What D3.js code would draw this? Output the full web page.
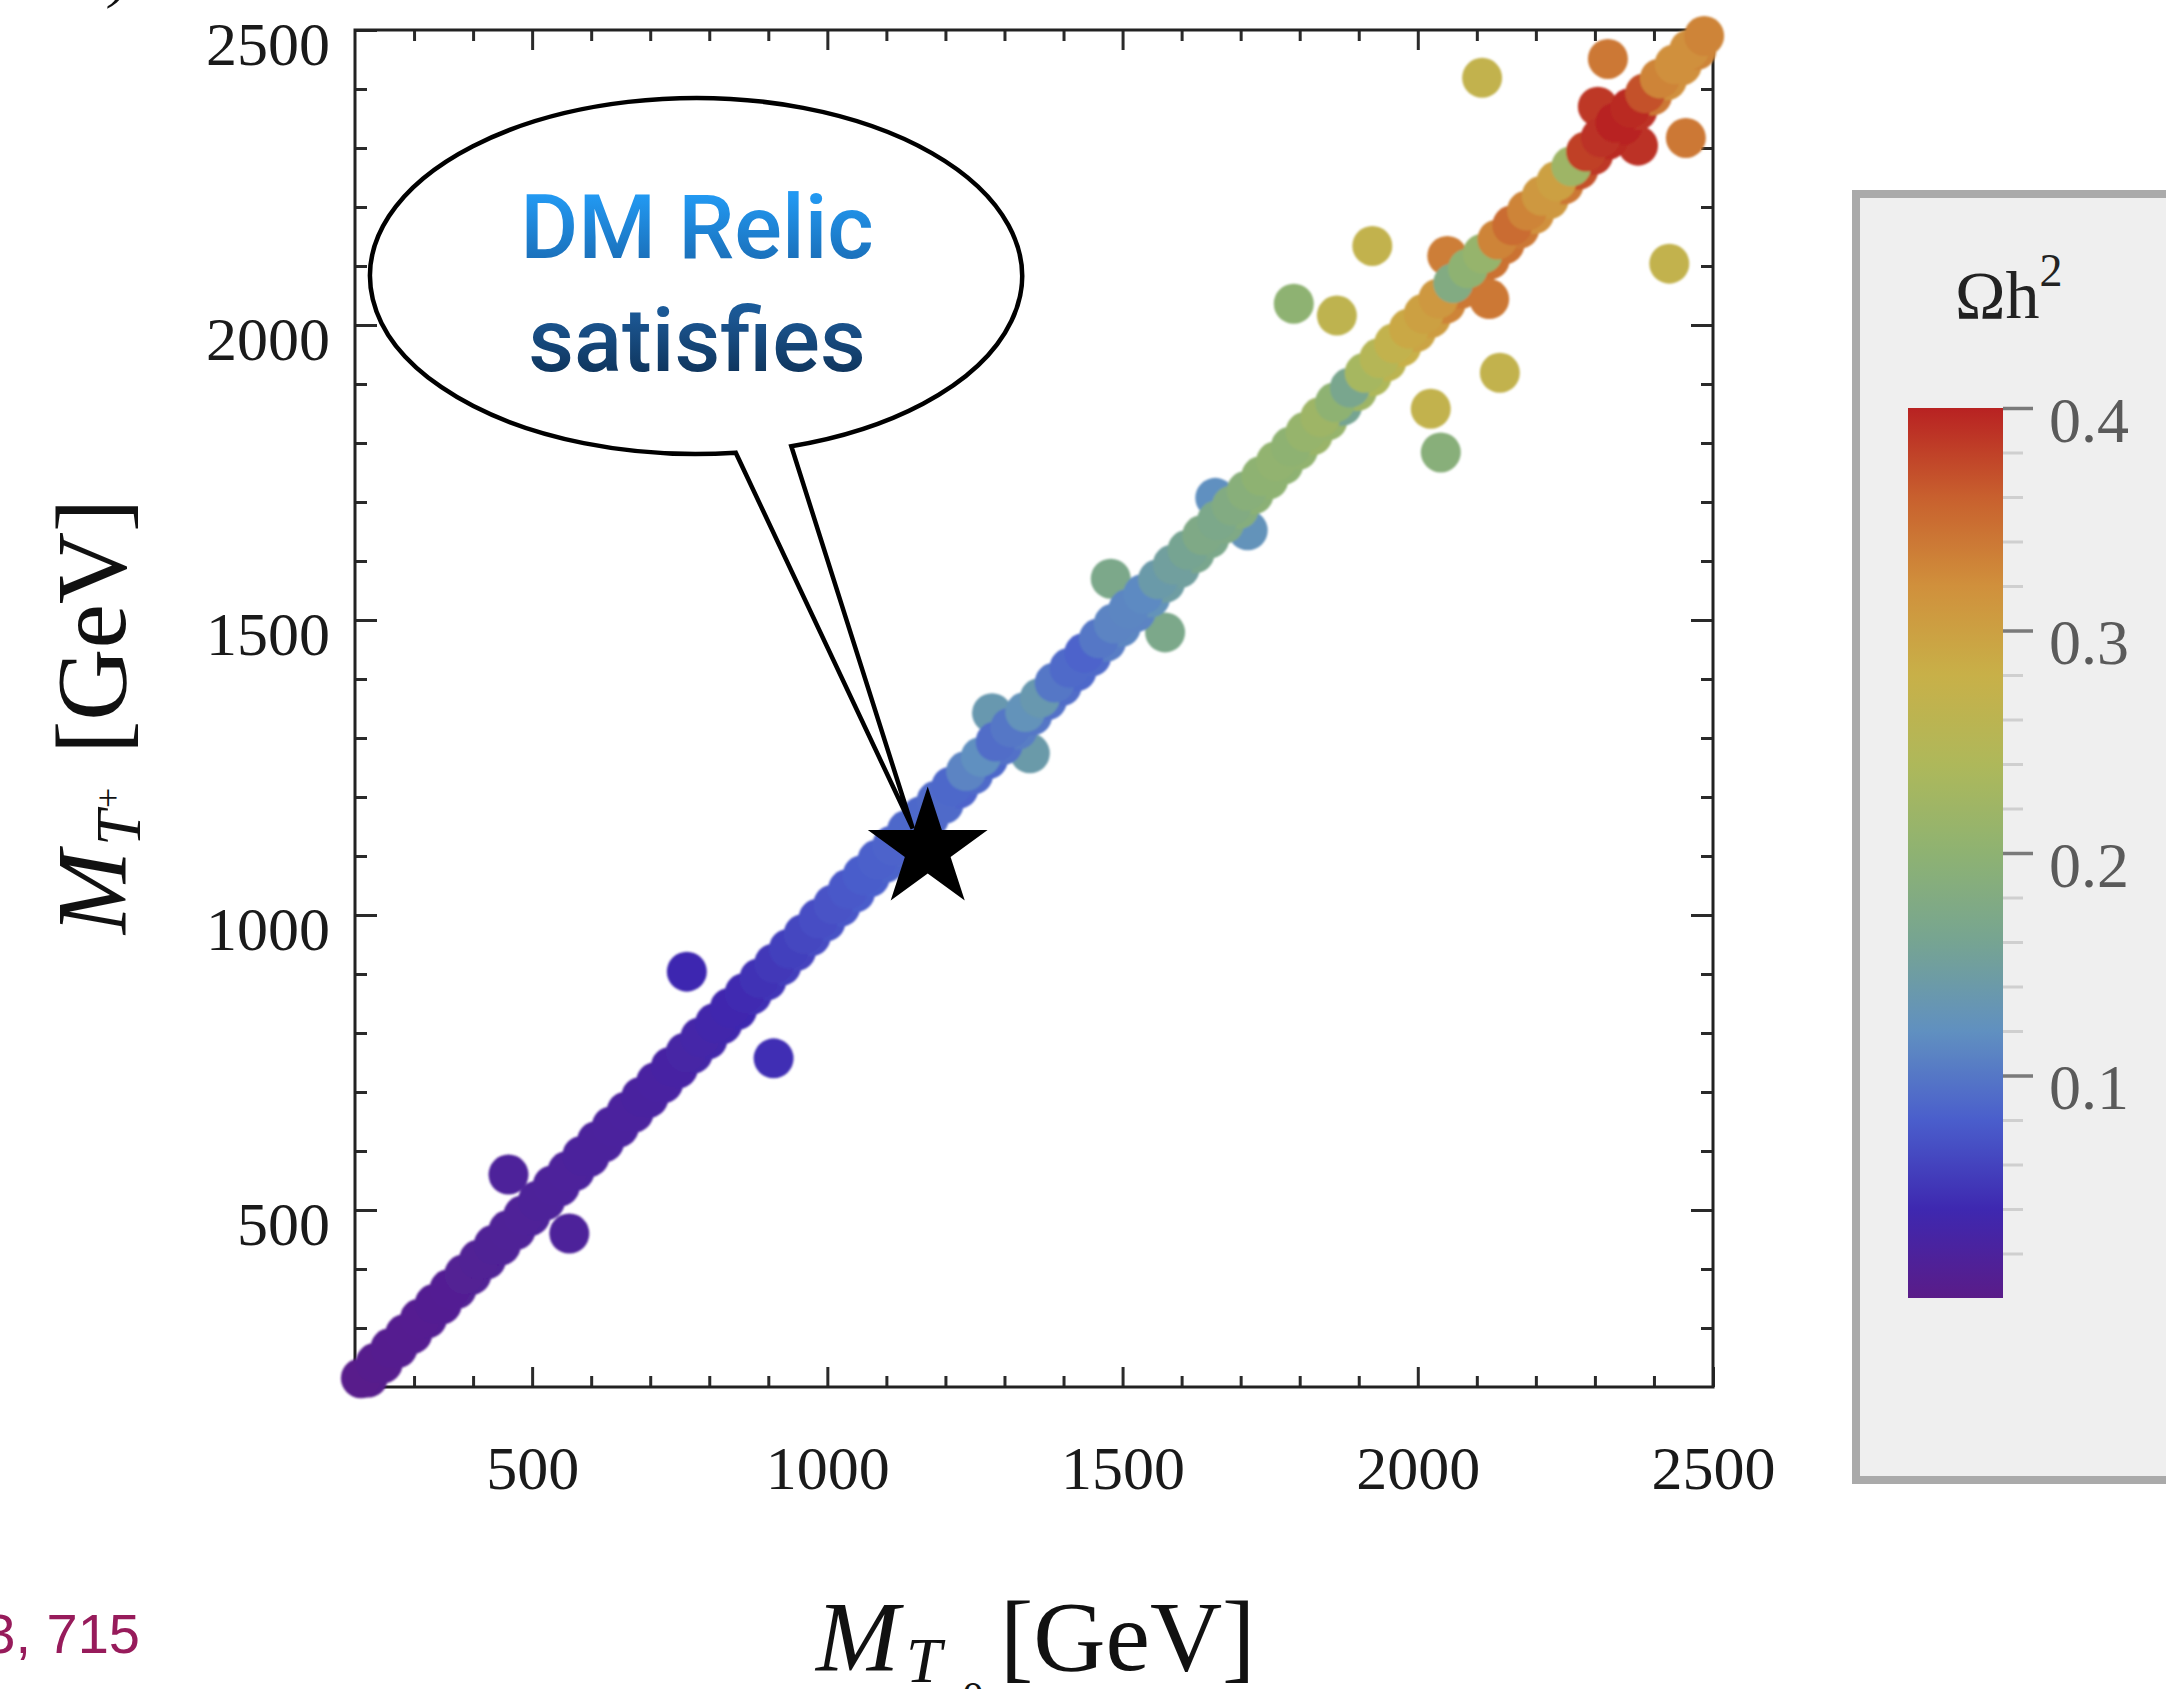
<!DOCTYPE html>
<html>
<head>
<meta charset="utf-8">
<style>
  body { margin: 0; background: #fff; }
  svg { display: block; }
  text { font-family: "Liberation Serif", "Times New Roman", serif; }
</style>
</head>
<body>
<svg width="2166" height="1689"></svg>
<script src="https://d3js.org/d3.v7.min.js"></script>
<script>

// band of scan points along the diagonal, upper-left row (M_T0, M_T+, Omega h^2)
var bandAT0 = [210, 235, 260, 285, 310, 335, 360, 385, 410, 435,
               460, 485, 510, 535, 560, 585, 610, 635, 660, 685,
               710, 735, 760, 785, 810, 835, 860, 885, 910, 935,
               960, 985, 1010, 1035, 1060, 1085, 1110, 1135, 1160, 1185,
               1210, 1235, 1260, 1285, 1310, 1335, 1360, 1385, 1410, 1435,
               1460, 1485, 1510, 1535, 1560, 1585, 1610, 1635, 1660, 1685,
               1710, 1735, 1760, 1785, 1810, 1835, 1860, 1885, 1910, 1935,
               1960, 1985, 2010, 2035, 2060, 2085, 2110, 2135, 2160, 2185,
               2210, 2235, 2260, 2285, 2310, 2335, 2360, 2385, 2410, 2435,
               2460, 2485];
var bandATplus = [215, 241, 266, 290, 316, 341, 366, 391, 416, 441,
                  466, 491, 516, 542, 566, 592, 617, 642, 667, 692,
                  717, 743, 767, 793, 817, 843, 868, 893, 918, 943,
                  968, 994, 1018, 1044, 1068, 1094, 1118, 1144, 1168, 1194,
                  1218, 1244, 1268, 1294, 1318, 1344, 1368, 1394, 1419, 1444,
                  1469, 1494, 1519, 1544, 1569, 1594, 1619, 1644, 1669, 1694,
                  1719, 1744, 1769, 1794, 1819, 1844, 1869, 1894, 1919, 1944,
                  1969, 1994, 2019, 2045, 2071, 2096, 2121, 2145, 2169, 2194,
                  2219, 2244, 2269, 2294, 2318, 2343, 2368, 2393, 2418, 2442,
                  2467, 2490];
var bandAOmega = [.003, .005, .007, .008, .009, .010, .011, .012, .013, .014,
                  .015, .016, .017, .018, .019, .020, .020, .021, .022, .023,
                  .025, .027, .029, .032, .035, .038, .042, .047, .052, .058,
                  .063, .068, .072, .076, .079, .082, .085, .087, .088, .090,
                  .088, .110, .120, .092, .100, .125, .135, .100, .090, .085,
                  .100, .110, .112, .115, .140, .150, .160, .175, .170, .180,
                  .190, .200, .205, .200, .210, .220, .200, .165, .230, .250,
                  .270, .290, .300, .310, .180, .200, .210, .330, .350, .330,
                  .310, .300, .220, .380, .390, .400, .395, .370, .330, .320,
                  .320, .330];

// band, lower-right row
var bandBT0 = [222, 247, 272, 297, 322, 347, 372, 397, 422, 447,
               472, 497, 522, 547, 572, 597, 622, 647, 672, 697,
               722, 747, 772, 797, 822, 847, 872, 897, 922, 947,
               972, 997, 1022, 1047, 1072, 1097, 1122, 1147, 1172, 1197,
               1222, 1247, 1272, 1297, 1322, 1347, 1372, 1397, 1422, 1447,
               1472, 1497, 1522, 1547, 1572, 1597, 1622, 1647, 1672, 1697,
               1722, 1747, 1772, 1797, 1822, 1847, 1872, 1897, 1922, 1947,
               1972, 1997, 2022, 2047, 2072, 2097, 2122, 2147, 2172, 2197,
               2222, 2247, 2272, 2297, 2322, 2347, 2372, 2397, 2422, 2447,
               2472];
var bandBTplus = [216, 240, 266, 290, 316, 340, 366, 390, 416, 440,
                  466, 490, 516, 540, 566, 590, 615, 640, 665, 690,
                  715, 740, 765, 789, 815, 839, 865, 889, 914, 939,
                  964, 989, 1014, 1038, 1064, 1088, 1114, 1138, 1164, 1188,
                  1214, 1238, 1264, 1288, 1314, 1338, 1364, 1388, 1413, 1438,
                  1463, 1488, 1513, 1538, 1563, 1588, 1613, 1638, 1663, 1688,
                  1713, 1738, 1763, 1788, 1813, 1838, 1863, 1888, 1913, 1938,
                  1963, 1988, 2012, 2036, 2061, 2086, 2111, 2137, 2163, 2188,
                  2213, 2238, 2263, 2288, 2314, 2339, 2364, 2389, 2415, 2440,
                  2466];
var bandBOmega = [.004, .006, .008, .009, .010, .011, .012, .013, .014, .015,
                  .016, .017, .018, .019, .020, .020, .021, .022, .022, .024,
                  .026, .028, .030, .034, .036, .040, .045, .050, .055, .060,
                  .066, .070, .074, .078, .080, .084, .086, .086, .089, .090,
                  .085, .090, .088, .095, .105, .100, .095, .092, .088, .090,
                  .105, .112, .110, .125, .145, .150, .165, .170, .175, .185,
                  .195, .200, .200, .205, .215, .210, .160, .220, .240, .260,
                  .280, .295, .305, .330, .340, .340, .345, .345, .340, .320,
                  .310, .340, .370, .385, .395, .400, .390, .340, .320, .320,
                  .330];

// scattered points off the band
var outT0 = [460, 563, 762, 909, 1279, 1343, 1480, 1572, 1657, 1712, 1790, 1863, 1923,
             2050, 2121, 2139, 2022, 2039, 2109, 2322, 2454, 2426, 2305, 2371, 2321, 2373];
var outTplus = [560, 460, 904, 757, 1342, 1274, 1570, 1479, 1707, 1652, 2036, 2016, 2134,
                2117, 2044, 1919, 1858, 1784, 2419, 2451, 2317, 2104, 2370, 2363, 2315, 2304];
var outOmega = [.018, .018, .040, .045, .135, .140, .170, .170, .120, .125, .200, .265, .270,
                .335, .340, .270, .270, .190, .270, .340, .340, .270, .385, .400, .400, .390];

// benchmark point (star)
var starT0 = 1170, starTplus = 1111;

var xTicks = [500, 1000, 1500, 2000, 2500];
var yTicks = [500, 1000, 1500, 2000, 2500];
var cbTicks = [0.1, 0.2, 0.3, 0.4];

// colour function of the bar legend
var omegaStops = [0, 0.04, 0.08, 0.12, 0.16, 0.20, 0.24, 0.28, 0.32, 0.36, 0.40];
var omegaColors = ["#5a1c88", "#3e28b0", "#4a5ecc", "#6090c0", "#76a492", "#8eb272",
                   "#aeb85a", "#c8b048", "#d0903c", "#c8602e", "#b82222"];

var svg = d3.select("svg");

var x = d3.scaleLinear().domain([200, 2500]).range([355, 1713]),
    y = d3.scaleLinear().domain([200, 2500]).range([1387, 30]);

var color = d3.scaleLinear()
    .domain(omegaStops)
    .range(omegaColors)
    .interpolate(d3.interpolateRgb);

var minor = d3.range(300, 2500, 100).filter(function(v) { return v % 500 != 0; });

// frame + ticks on all four sides, pointing inward
function styleAxis(g) {
  g.select(".domain").remove();
  g.selectAll(".tick line").attr("stroke", "#2a2a2a").attr("stroke-width", 3);
  g.selectAll(".tick text").attr("fill", "#1a1a1a")
    .style("font-family", "'Liberation Serif', serif").style("font-size", "62px");
}

svg.append("g").attr("transform", "translate(0,1387)")
    .call(d3.axisBottom(x).tickValues(xTicks).tickSizeInner(-20).tickSizeOuter(0).tickPadding(58).tickFormat(d3.format("d")))
    .call(styleAxis);
svg.append("g").attr("transform", "translate(0,1387)")
    .call(d3.axisBottom(x).tickValues(minor).tickSizeInner(-11).tickSizeOuter(0).tickFormat(""))
    .call(styleAxis);
svg.append("g").attr("transform", "translate(0,30)")
    .call(d3.axisTop(x).tickValues(xTicks).tickSizeInner(-20).tickSizeOuter(0).tickFormat(""))
    .call(styleAxis);
svg.append("g").attr("transform", "translate(0,30)")
    .call(d3.axisTop(x).tickValues(minor).tickSizeInner(-11).tickSizeOuter(0).tickFormat(""))
    .call(styleAxis);

var yl = svg.append("g").attr("transform", "translate(355,0)")
    .call(d3.axisLeft(y).tickValues(yTicks).tickSizeInner(-22).tickSizeOuter(0).tickPadding(25).tickFormat(d3.format("d")))
    .call(styleAxis);
yl.selectAll(".tick text").attr("dy", "0.56em");
svg.append("g").attr("transform", "translate(355,0)")
    .call(d3.axisLeft(y).tickValues(minor).tickSizeInner(-12).tickSizeOuter(0).tickFormat(""))
    .call(styleAxis);
svg.append("g").attr("transform", "translate(1713,0)")
    .call(d3.axisRight(y).tickValues(yTicks).tickSizeInner(-22).tickSizeOuter(0).tickFormat(""))
    .call(styleAxis);
svg.append("g").attr("transform", "translate(1713,0)")
    .call(d3.axisRight(y).tickValues(minor).tickSizeInner(-12).tickSizeOuter(0).tickFormat(""))
    .call(styleAxis);

svg.append("rect")
    .attr("x", x(200)).attr("y", y(2500))
    .attr("width", x(2500) - x(200)).attr("height", y(200) - y(2500))
    .attr("fill", "none").attr("stroke", "#222").attr("stroke-width", 3);

// points
var defs = svg.append("defs");
defs.append("filter").attr("id", "soft")
  .append("feGaussianBlur").attr("stdDeviation", 1.1);

function rows(t0, tp, om) {
  return t0.map(function(d, i) { return {t0: d, tp: tp[i], om: om[i]}; });
}
var pts = rows(outT0, outTplus, outOmega)
    .concat(rows(bandBT0, bandBTplus, bandBOmega))
    .concat(rows(bandAT0, bandATplus, bandAOmega));

svg.append("g").attr("filter", "url(#soft)")
  .selectAll("circle")
  .data(pts)
  .enter().append("circle")
    .attr("cx", function(d) { return x(d.t0); })
    .attr("cy", function(d) { return y(d.tp); })
    .attr("r", 20)
    .attr("fill", function(d) { return color(d.om); });

// callout bubble
var tg = defs.append("linearGradient").attr("id", "txtGrad")
    .attr("gradientUnits", "userSpaceOnUse")
    .attr("x1", 0).attr("x2", 0).attr("y1", 195).attr("y2", 395);
tg.append("stop").attr("offset", "0%").attr("stop-color", "#2299f2");
tg.append("stop").attr("offset", "35%").attr("stop-color", "#1a6db6");
tg.append("stop").attr("offset", "62%").attr("stop-color", "#1b5590");
tg.append("stop").attr("offset", "100%").attr("stop-color", "#0a2848");

var ell = {cx: 696, cy: 276, rx: 326, ry: 178};
var aR = 73 * Math.PI / 180, aL = 83 * Math.PI / 180;
var pR = [ell.cx + ell.rx * Math.cos(aR), ell.cy + ell.ry * Math.sin(aR)],
    pL = [ell.cx + ell.rx * Math.cos(aL), ell.cy + ell.ry * Math.sin(aL)],
    tip = [x(starT0) - 15, y(starTplus) - 21];

svg.append("path")
    .attr("d", "M" + pR + "A" + ell.rx + "," + ell.ry + " 0 1 0 " + pL + "L" + tip + "Z")
    .attr("fill", "#fff").attr("stroke", "#000").attr("stroke-width", 4.5)
    .attr("stroke-linejoin", "miter").attr("stroke-miterlimit", 4);

svg.append("text")
    .attr("x", 697).attr("y", 258)
    .attr("text-anchor", "middle")
    .style("font-family", "Roboto, 'Open Sans', sans-serif")
    .style("font-weight", 500).style("font-size", "89px")
    .attr("fill", "url(#txtGrad)")
    .text("DM Relic");
svg.append("text")
    .attr("x", 697).attr("y", 371)
    .attr("text-anchor", "middle")
    .style("font-family", "Roboto, 'Open Sans', sans-serif")
    .style("font-weight", 500).style("font-size", "89px")
    .attr("fill", "url(#txtGrad)")
    .text("satisfies");

// star
svg.append("path")
    .attr("d", d3.symbol().type(d3.symbolStar).size(4456)())
    .attr("transform", "translate(" + x(starT0) + "," + y(starTplus) + ")")
    .attr("fill", "#000");

// axis titles
var xt = svg.append("text").attr("y", 1670).style("font-size", "100px").attr("fill", "#111");
xt.append("tspan").attr("x", 816).style("font-style", "italic").text("M");
xt.append("tspan").attr("x", 906).attr("y", 1682).style("font-style", "italic").style("font-size", "64px").text("T");
xt.append("tspan").attr("x", 962).attr("y", 1712).style("font-size", "44px").text("0");
xt.append("tspan").attr("x", 1000).attr("y", 1670).text("[GeV]");

var ytg = svg.append("g").attr("transform", "translate(125,716) rotate(-90)");
var yt = ytg.append("text").style("font-size", "100px").attr("fill", "#111");
yt.append("tspan").attr("x", -218).attr("y", 0).style("font-style", "italic").text("M");
yt.append("tspan").attr("x", -130).attr("y", 15).style("font-style", "italic").style("font-size", "64px").text("T");
yt.append("tspan").attr("x", -92).attr("y", -5).style("font-size", "36px").text("+");
yt.append("tspan").attr("x", -38).attr("y", 0).text("[GeV]");

// colour bar legend
svg.append("rect")
    .attr("x", 1856).attr("y", 194).attr("width", 400).attr("height", 1286)
    .attr("fill", "#efefef").attr("stroke", "#aaa").attr("stroke-width", 8);

var cb = d3.scaleLinear().domain([0, 0.4]).range([1298, 408]);
var cg = defs.append("linearGradient").attr("id", "cbGrad")
    .attr("x1", 0).attr("x2", 0).attr("y1", 1).attr("y2", 0);
d3.range(0, 1.0001, 0.025).forEach(function(t) {
  cg.append("stop").attr("offset", (t * 100) + "%").attr("stop-color", color(t * 0.4));
});
svg.append("rect")
    .attr("x", 1908).attr("y", cb(0.4)).attr("width", 95).attr("height", cb(0) - cb(0.4))
    .attr("fill", "url(#cbGrad)");

var cbMinor = d3.range(0.02, 0.399, 0.02).filter(function(v) {
  return Math.abs(v * 10 - Math.round(v * 10)) > 1e-6;
});
var cbm = svg.append("g").attr("transform", "translate(2003,0)")
    .call(d3.axisRight(cb).tickValues(cbMinor).tickSizeInner(20).tickSizeOuter(0).tickFormat(""));
cbm.select(".domain").remove();
cbm.selectAll(".tick line").attr("stroke", "#cfcfcf").attr("stroke-width", 3);

var cba = svg.append("g").attr("transform", "translate(2003,0)")
    .call(d3.axisRight(cb).tickValues(cbTicks).tickSizeInner(30).tickSizeOuter(0).tickPadding(16).tickFormat(d3.format(".1f")));
cba.select(".domain").remove();
cba.selectAll(".tick line").attr("stroke", "#7a7a7a").attr("stroke-width", 3.5);
cba.selectAll(".tick text").attr("fill", "#5a5a5a").attr("dy", "0.52em")
    .style("font-family", "'Liberation Serif', serif").style("font-size", "64px");

var ct = svg.append("text").attr("x", 1955).attr("y", 318).style("font-size", "68px").attr("fill", "#222");
ct.append("tspan").text("\u03A9h");
ct.append("tspan").attr("dy", -32).style("font-size", "46px").text("2");

// leftovers of the surrounding slide
svg.append("text").attr("x", 140).attr("y", 1653).attr("text-anchor", "end")
    .style("font-family", "'Liberation Sans', Arial, sans-serif").style("font-size", "56px")
    .attr("fill", "#971b5b").text("3, 715");
svg.append("text").attr("x", 110).attr("y", -4)
    .style("font-style", "italic").style("font-size", "60px").attr("fill", "#111").text(")");

</script>
</body>
</html>
